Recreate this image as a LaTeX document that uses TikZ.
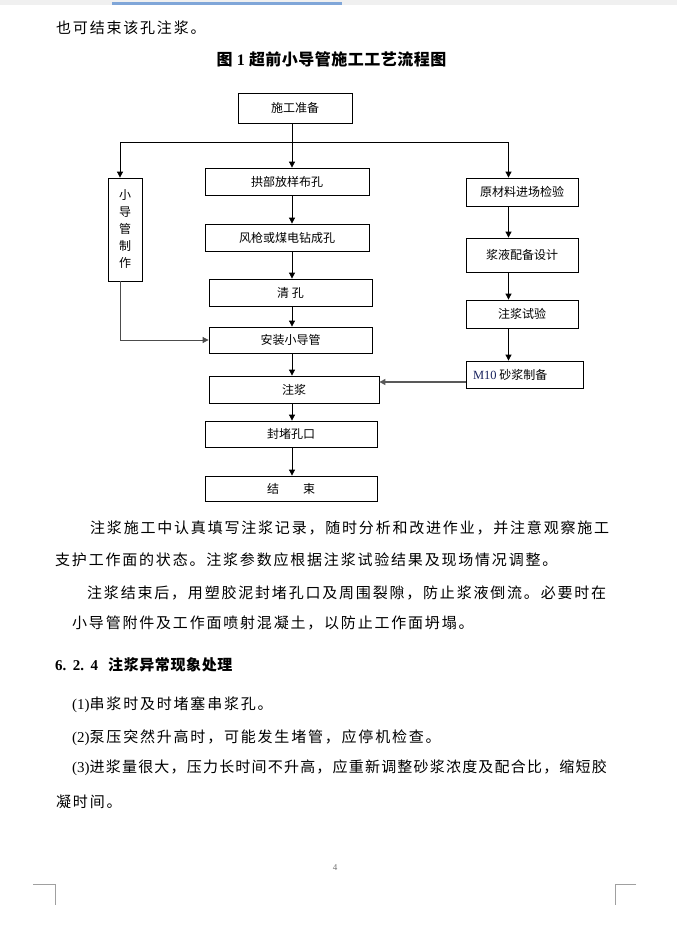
\documentclass[tikz,border=0pt]{standalone}
\usepackage{fontspec}
\setmainfont{Liberation Serif}
\newfontfamily\zhfont{Noto Sans CJK SC}
\usetikzlibrary{arrows.meta, calc, positioning}
\definecolor{barblue}{RGB}{128,166,216}
\definecolor{bargray}{RGB}{240,240,240}
\definecolor{navyblue}{RGB}{25,35,95}
\definecolor{markgray}{RGB}{160,160,160}
\newcommand{\zhbody}[1][12]{\zhfont\fontsize{15}{17}\selectfont\addfontfeature{LetterSpace=#1}}
\tikzset{
    flowbox/.style={draw, line width=0.8pt, inner sep=0pt, font=\zhfont\fontsize{12}{14}\selectfont},
    flowarrow/.style={-{Triangle[width=6pt,length=6pt]}, line width=0.8pt},
    bodyline/.style={anchor=west, inner sep=0pt, font=\zhbody}
}
\begin{document}
\begin{tikzpicture}[x=1pt, y=-1pt]
    \useasboundingbox (0,0) rectangle (677,929);
    \fill[white] (0,0) rectangle (677,929);
    \fill[bargray] (0,0) rectangle (677,5);
    \fill[barblue] (112,1.5) rectangle (342,5);

    \node[bodyline] (topline) at (56,28) {也可结束该孔注浆。};
    \node[inner sep=0pt, font=\zhfont\bfseries\fontsize{16}{18}\selectfont\addfontfeature{LetterSpace=3}] (title) at (331.5,59)
        {图 {\rmfamily\bfseries 1} 超前小导管施工工艺流程图};

    % Flow boxes
    \node[flowbox, minimum width=114pt, minimum height=30pt] (prep) at (295,108) {施工准备};
    \node[flowbox, minimum width=34pt, minimum height=103pt, align=center, font=\zhfont\fontsize{12}{17}\selectfont] (pipe) at (125,229.5) {小\\导\\管\\制\\作};
    \node[flowbox, minimum width=164pt, minimum height=27pt] (layout) at (287,181.5) {拱部放样布孔};
    \node[flowbox, minimum width=164pt, minimum height=27pt] (drill) at (287,237.5) {风枪或煤电钻成孔};
    \node[flowbox, minimum width=163pt, minimum height=27pt] (clean) at (290.5,292.5) {清 孔};
    \node[flowbox, minimum width=163pt, minimum height=26pt] (install) at (290.5,340) {安装小导管};
    \node[flowbox, minimum width=170pt, minimum height=27pt] (grout) at (294,389.5) {注浆};
    \node[flowbox, minimum width=172pt, minimum height=26pt] (seal) at (291,434) {封堵孔口};
    \node[flowbox, minimum width=172pt, minimum height=25pt] (finish) at (291,488.5) {结　　束};
    \node[flowbox, minimum width=112pt, minimum height=28pt] (check) at (522,192) {原材料进场检验};
    \node[flowbox, minimum width=112pt, minimum height=34pt] (mix) at (522,255) {浆液配备设计};
    \node[flowbox, minimum width=112pt, minimum height=28pt] (test) at (522,314) {注浆试验};
    \node[flowbox, minimum width=117pt, minimum height=27pt] (mortar) at (524.5,374.5)
        {\makebox[103pt][l]{\textcolor{navyblue}{\rmfamily\fontsize{12.5}{14}\selectfont M10} 砂浆制备}};

    % Connectors
    \coordinate (axisL) at (292,0);
    \coordinate (axisR) at (508.5,0);
    \coordinate (splitL) at (120,142);
    \coordinate (splitR) at (508.5,142);
    \coordinate (feed) at (0,382);
    \draw[line width=0.8pt] (splitL) -- (splitR);
    \draw[flowarrow] (splitL) -- (pipe.north -| splitL);
    \draw[flowarrow] (splitR) -- (check.north -| splitR);
    \draw[flowarrow] (prep.south -| axisL) -- (layout.north -| axisL);
    \foreach \a/\b in {layout/drill, drill/clean, clean/install, install/grout, grout/seal, seal/finish}
        \draw[flowarrow] (\a.south -| axisL) -- (\b.north -| axisL);
    \foreach \a/\b in {check/mix, mix/test, test/mortar}
        \draw[flowarrow] (\a.south -| axisR) -- (\b.north -| axisR);
    \draw[flowarrow, black!70] (pipe.south -| splitL) |- (install.west);
    \draw[flowarrow, black!65, line width=1.2pt] (mortar.west |- feed) -- (grout.east |- feed);

    % Body text
    \node[bodyline] (para1a) at (90,528) {注浆施工中认真填写注浆记录，随时分析和改进作业，并注意观察施工};
    \node[bodyline] (para1b) at (55,560) {支护工作面的状态。注浆参数应根据注浆试验结果及现场情况调整。};
    \node[bodyline] (para2a) at (87,593) {注浆结束后，用塑胶泥封堵孔口及周围裂隙，防止浆液倒流。必要时在};
    \node[bodyline] (para2b) at (72,623) {小导管附件及工作面喷射混凝土，以防止工作面坍塌。};
    \node[bodyline, font={\zhbody[4]\bfseries}] (heading) at (55,665)
        {{\rmfamily\bfseries\makebox[43pt][s]{6.\hfil 2.\hfil 4}}\hspace{10pt}注浆异常现象处理};
    \node[bodyline] (item1) at (72,705) {{\rmfamily (1)}串浆时及时堵塞串浆孔。};
    \node[bodyline] (item2) at (72,738) {{\rmfamily (2)}泵压突然升高时，可能发生堵管，应停机检查。};
    \node[bodyline, font={\zhbody[8]}] (item3) at (72,768) {{\rmfamily (3)}进浆量很大，压力长时间不升高，应重新调整砂浆浓度及配合比，缩短胶};
    \node[bodyline] (item3b) at (56,802) {凝时间。};

    % Page footer
    \node[inner sep=0pt, font=\rmfamily\fontsize{9}{10}\selectfont, text=black!55] (pagenum) at (335,868) {4};
    \draw[markgray, line width=0.8pt] (33,884) -- (55,884) -- (55,905);
    \draw[markgray, line width=0.8pt] (636,884) -- (615,884) -- (615,905);
\end{tikzpicture}
\end{document}
